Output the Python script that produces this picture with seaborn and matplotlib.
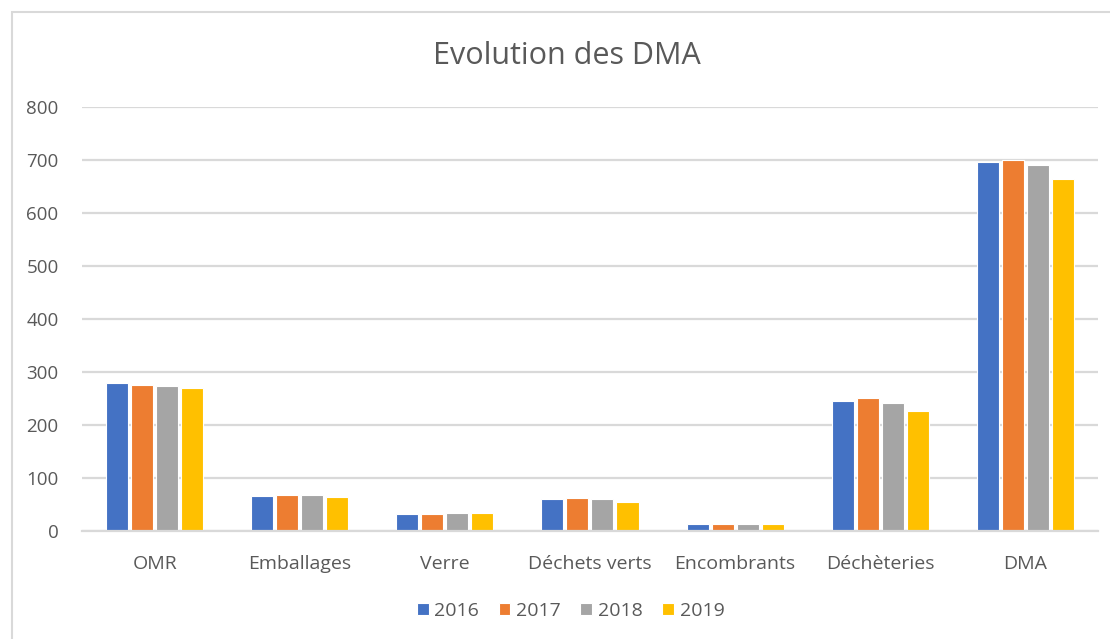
import matplotlib
matplotlib.use("Agg")
import matplotlib.pyplot as plt
import seaborn as sns
import pandas as pd
from matplotlib.patches import Rectangle

categories = ["OMR", "Emballages", "Verre", "Déchets verts", "Encombrants", "Déchèteries", "DMA"]
years = ["2016", "2017", "2018", "2019"]
v2016 = [279, 66, 32, 60, 13, 245, 696]
v2017 = [275, 68, 32, 62, 13, 250, 700]
v2018 = [273, 68, 34, 60, 13, 241, 691]
v2019 = [270, 64, 34, 55, 13, 227, 664]
colors = ["#4472C4", "#ED7D31", "#A5A5A5", "#FFC000"]

rows = []
for y, vals in zip(years, [v2016, v2017, v2018, v2019]):
    for c, v in zip(categories, vals):
        rows.append({"cat": c, "year": y, "val": v})
df = pd.DataFrame(rows)

sns.set_theme(style="white")
plt.rcParams["font.family"] = ["Open Sans", "DejaVu Sans"]
text_c = "#595959"

fig = plt.figure(figsize=(11.1, 6.39), dpi=100)
ax = fig.add_axes([0.074, 0.169, 0.915, 0.664])

sns.barplot(data=df, x="cat", y="val", hue="year", order=categories, hue_order=years,
            palette=colors, width=0.69, gap=0.12, edgecolor="white", linewidth=0.8,
            saturation=1, ax=ax, legend=True)

ax.set_ylim(0, 800)
ax.set_yticks(range(0, 801, 100))
ax.set_xlim(-0.5, len(categories) - 0.5)
ax.yaxis.grid(True, color="#D9D9D9", linewidth=1.6)
ax.set_axisbelow(True)
for s in ["top", "right", "left"]:
    ax.spines[s].set_visible(False)
ax.spines["bottom"].set_color("#D9D9D9")
ax.spines["bottom"].set_linewidth(1.6)
ax.tick_params(axis="y", length=0, pad=17, labelsize=13.5, labelcolor=text_c)
ax.tick_params(axis="x", length=0, pad=17, labelsize=14, labelcolor=text_c)
ax.set_xlabel("")
ax.set_ylabel("")

ax.legend(loc="upper center", bbox_to_anchor=(0.481, -0.125), ncol=4, frameon=False,
          fontsize=14, labelcolor=text_c, handlelength=0.6, handleheight=0.6,
          handletextpad=0.3, columnspacing=1.0)

fig.text(0.511, 0.912, "Evolution des DMA", ha="center", va="center", fontsize=22, color=text_c)

fig.patches.append(Rectangle((12 / 1110, -0.05), 1.1, 1 - 12 / 639 + 0.05,
                             transform=fig.transFigure, fill=False,
                             edgecolor="#D9D9D9", linewidth=1.5))

fig.savefig("out.png", dpi=100)
